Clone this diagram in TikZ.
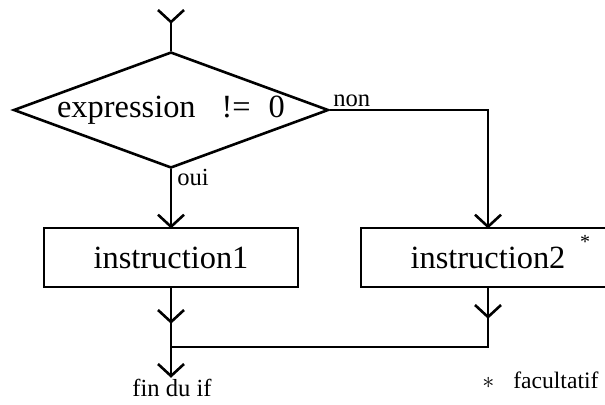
\documentclass[tikz,border=0pt]{standalone}
\usepackage{fontspec}
\setmainfont{Liberation Serif}
\usetikzlibrary{shapes.geometric}
\begin{document}
\begin{tikzpicture}[x=0.5pt,y=-0.5pt, line width=1.3pt,
  box/.style={draw, rectangle, minimum width=127pt, minimum height=29.5pt, inner sep=0pt, font=\fontsize{16.2}{18}\selectfont},
  dec/.style={diamond, draw, aspect=2.7, minimum width=157.5pt, minimum height=58pt, inner sep=0pt, font=\fontsize{16.2}{18}\selectfont},
  lbl/.style={inner sep=0pt, font=\fontsize{12.3}{14}\selectfont},
  vmark/.pic={\draw (-13,-12) -- (0,0) -- (13,-12);}
]
\useasboundingbox (0,0) rectangle (605,404);
\clip (0,0) rectangle (605,404);

\coordinate (start) at (171,22);
\node[dec] (d) at (171,110) {expression\hspace{13pt}!=\hspace{9pt}0};
\node[box] (b1) at (171,257.5) {instruction1};
\node[box] (b2) at (488,257.5) {instruction2};
\node[inner sep=0pt, font=\fontsize{10}{12}\selectfont] (star) at (585,242) {*};
\coordinate (j) at (171,347);
\coordinate (end) at (171,376);

\node[lbl, anchor=base west] (non) at (332,106) {non};
\node[lbl, anchor=base west] (oui) at (176,185) {oui};
\node[lbl, anchor=base] (fin) at (172,396) {fin du if};
\node[lbl, anchor=base west, font=\fontsize{11.8}{14}\selectfont] (fac) at (481,388) {$\ast$\hspace{9.5pt}facultatif};

\draw (start) -- (d.north);
\pic at (start) {vmark};
\draw (d.east) -| (b2.north);
\pic at (b2.north) {vmark};
\draw (d.south) -- (b1.north);
\pic at (b1.north) {vmark};
\draw (b1.south) -- (end);
\pic at (171,322) {vmark};
\pic at (end) {vmark};
\draw (b2.south) |- (j);
\pic at (488,317) {vmark};
\end{tikzpicture}
\end{document}
